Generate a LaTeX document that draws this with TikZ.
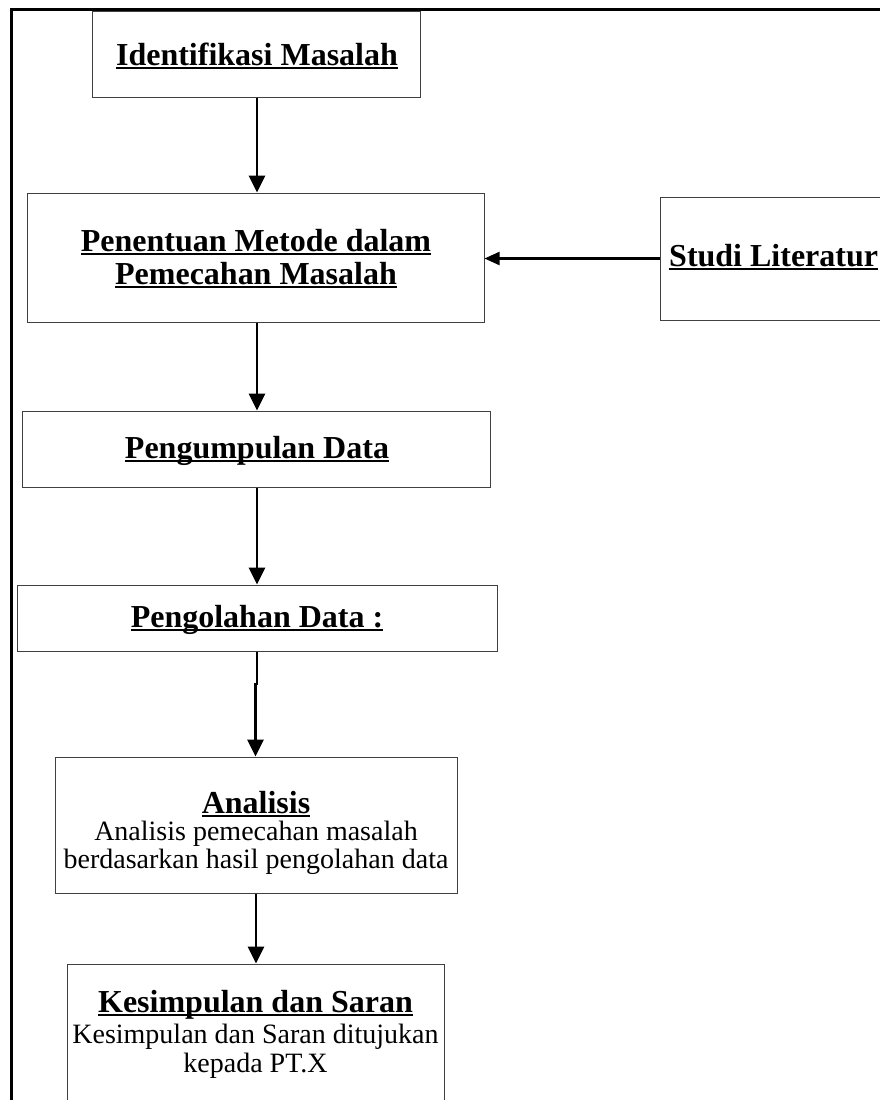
\documentclass[tikz,border=0pt]{standalone}
\usepackage{fontspec}
\setmainfont{Liberation Serif}
\newcommand\myul[1]{\leavevmode\setbox0\hbox{#1}\rlap{\copy0}\rule[-4pt]{\wd0}{1.8pt}}
\usetikzlibrary{arrows.meta}
\tikzset{
  box/.style={draw=black!75, line width=1pt, rectangle, inner sep=0pt},
  head/.style={font=\fontsize{32}{36}\selectfont\bfseries, anchor=base, inner sep=0pt},
  body/.style={font=\fontsize{28}{32}\selectfont, anchor=base, inner sep=0pt},
  flow/.style={line width=2.8pt, -{Triangle[length=17pt,width=16pt]}},
  side/.style={line width=2.2pt, -{Triangle[length=15pt,width=13pt]}},
}
\begin{document}
\begin{tikzpicture}[x=1pt,y=-1pt]
\useasboundingbox (0,0) rectangle (880,1100);
\clip (0,0) rectangle (880,1100);
\fill[white] (0,0) rectangle (880,1100);
% frame
\draw[line width=3pt] (11,1110) -- (11,9.5) -- (890,9.5);
% boxes
\node[box, minimum width=328pt, minimum height=86pt] (b1) at (256,54) {};
\node[box, minimum width=457pt, minimum height=129pt] (b2) at (255.5,257.5) {};
\node[box, minimum width=240pt, minimum height=123pt] (b3) at (780,258.5) {};
\node[box, minimum width=468pt, minimum height=76pt] (b4) at (256,449) {};
\node[box, minimum width=480pt, minimum height=66pt] (b5) at (257,618) {};
\node[box, minimum width=402pt, minimum height=136pt] (b6) at (256,825) {};
\node[box, minimum width=377pt, minimum height=180pt] (b7) at (255.5,1054) {};
% texts
\node[head] (t1) at (257,65) {\myul{Identifikasi Masalah}};
\node[head] (t2a) at (256,251) {\myul{Penentuan Metode dalam}};
\node[head] (t2b) at (256,284) {\myul{Pemecahan Masalah}};
\node[head, anchor=base west] (t3) at (669,266) {\myul{Studi Literatur}};
\node[head] (t4) at (257,458) {\myul{Pengumpulan Data}};
\node[head] (t5) at (257,627) {\myul{Pengolahan Data :}};
\node[head] (t6) at (256,813) {\myul{Analisis}};
\node[body] (t6a) at (256,840) {Analisis pemecahan masalah};
\node[body] (t6b) at (256,868) {berdasarkan hasil pengolahan data};
\node[head] (t7) at (255.5,1012) {\myul{Kesimpulan dan Saran}};
\node[body] (t7a) at (255.5,1043) {Kesimpulan dan Saran ditujukan};
\node[body] (t7b) at (255.5,1072) {kepada PT.X};
% connectors
\coordinate (jog) at (257,684);
\draw[flow] (b1.south -| 257,0) -- (b2.north -| 257,0);
\draw[side] (b3.west) -- (b2.east |- b3.west);
\draw[flow] (b2.south -| 257,0) -- (b4.north -| 257,0);
\draw[flow] (b4.south -| 257,0) -- (b5.north -| 257,0);
\draw[flow] (b5.south -| jog) -- (jog) -- ++(-1.5,0) -- (b6.north -| 255.5,0);
\draw[flow] (b6.south -| 256,0) -- (b7.north -| 256,0);
\end{tikzpicture}
\end{document}
